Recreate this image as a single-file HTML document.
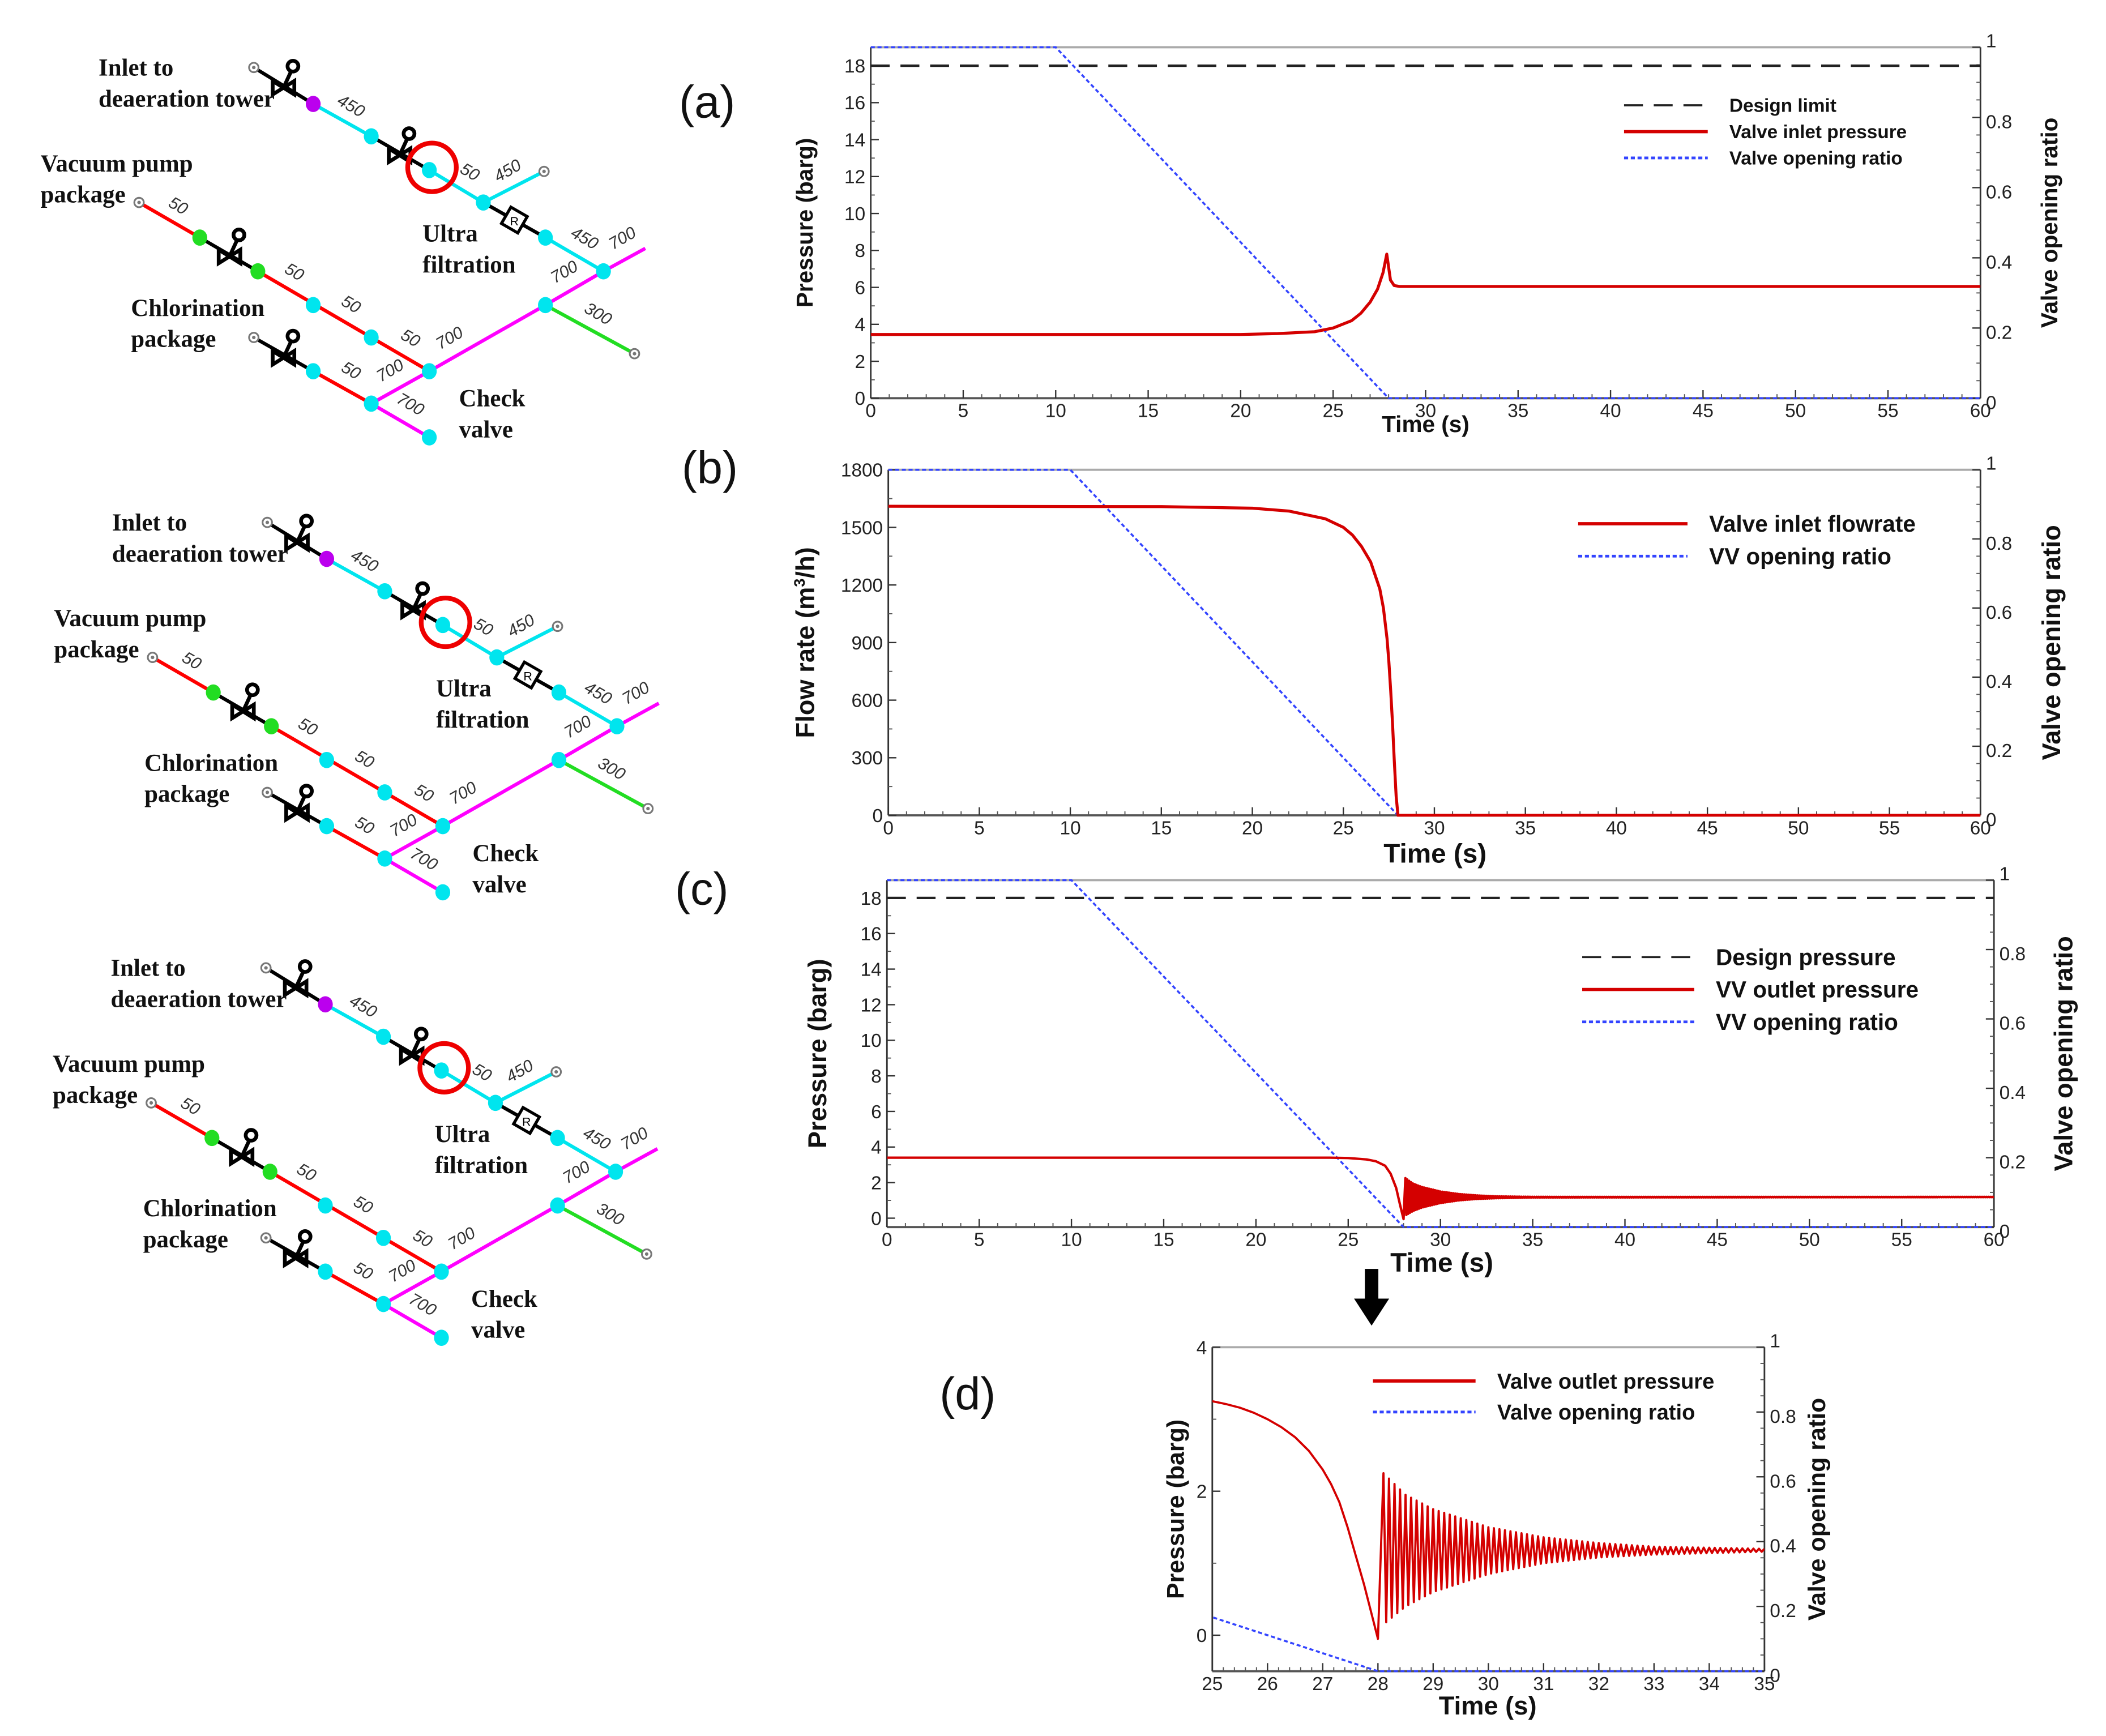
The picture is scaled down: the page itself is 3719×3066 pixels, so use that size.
<!DOCTYPE html>
<html><head><meta charset="utf-8"><style>
html,body{margin:0;padding:0;background:#fff;}
svg{display:block;}
text{font-family:"Liberation Sans",sans-serif;}
.serif{font-family:"Liberation Serif",serif;font-weight:bold;}
</style></head><body>
<svg id="fig" width="3719" height="3066" viewBox="0 0 1560 1286" preserveAspectRatio="none" xmlns="http://www.w3.org/2000/svg"></svg>
<script>
// ---------- data ----------
const openT = [0, 10, 28, 60];
const openV = [1, 1, 0, 0];
const designLimit = 18;
const aT = [0, 20, 22, 24, 25, 26, 26.5, 27, 27.4, 27.7, 27.9, 28.1, 28.3, 28.6, 60];
const aP = [3.45, 3.45, 3.5, 3.6, 3.8, 4.2, 4.6, 5.2, 5.9, 6.8, 7.8, 6.4, 6.1, 6.05, 6.05];
const bT = [0, 15, 20, 22, 24, 25, 25.5, 26, 26.5, 27, 27.2, 27.4, 27.5, 27.6, 27.7, 27.8, 27.9, 28, 60];
const bQ = [1610, 1608, 1600, 1585, 1545, 1500, 1460, 1400, 1320, 1180, 1080, 920, 800, 650, 480, 280, 100, 0, 0];
const cT = [0, 24, 25, 26, 26.5, 27, 27.3, 27.6, 27.8, 28];
const cP = [3.4, 3.4, 3.38, 3.3, 3.2, 2.95, 2.5, 1.7, 0.8, -0.05];
const dT = [25, 25.25, 25.5, 25.75, 26, 26.25, 26.5, 26.75, 27, 27.15, 27.3, 27.45, 27.6, 27.75, 27.9, 28];
const dP = [3.25, 3.21, 3.16, 3.09, 3.0, 2.89, 2.75, 2.56, 2.3, 2.1, 1.85, 1.5, 1.1, 0.7, 0.25, -0.05];
const oscT = [28.1, 28.5, 29, 30, 31, 32, 33, 35, 60];
const oscHi = [2.25, 1.95, 1.75, 1.5, 1.36, 1.28, 1.23, 1.2, 1.2];
const oscLo = [0.15, 0.4, 0.6, 0.85, 1.0, 1.08, 1.12, 1.16, 1.18];
const oscPeriod = 0.1;
const xTicks60 = [0,5,10,15,20,25,30,35,40,45,50,55,60];
const xTicksD = [25,26,27,28,29,30,31,32,33,34,35];
const pTicks = [0,2,4,6,8,10,12,14,16,18];
const qTicks = [0,300,600,900,1200,1500,1800];
const dTicks = [0,2,4];
const rTicks = [0,0.2,0.4,0.6,0.8,1];

const NS = "http://www.w3.org/2000/svg";
const svg = document.getElementById('fig');
function el(tag, attrs, parent, txt){
  const e = document.createElementNS(NS, tag);
  for (const k in attrs) e.setAttribute(k, attrs[k]);
  if (txt !== undefined) e.textContent = txt;
  (parent || svg).appendChild(e);
  return e;
}
function interp(ts, vs, t){
  if (t <= ts[0]) return vs[0];
  for (let i=1;i<ts.length;i++){ if (t<=ts[i]) { const f=(t-ts[i-1])/(ts[i]-ts[i-1]); return vs[i-1]+f*(vs[i]-vs[i-1]); } }
  return vs[vs.length-1];
}

function chart(c){
  const g = el('g', {});
  
  
  const sx = v => c.x0 + (v-c.xmin)/(c.xmax-c.xmin)*(c.x1-c.x0);
  const sy = v => c.y1 - (v-c.ymin)/(c.ymax-c.ymin)*(c.y1-c.y0);
  const sr = v => c.y1 - v*(c.y1-c.y0);
  const clip = 'clip-'+c.name;
  const cp = el('clipPath', {id:clip}, g);
  el('rect', {x:c.x0, y:c.y0-2, width:c.x1-c.x0, height:c.y1-c.y0+3}, cp);
  el('line', {x1:c.x0, y1:c.y0, x2:c.x1, y2:c.y0, stroke:'#aaa', 'stroke-width':1.6}, g);
  el('line', {x1:c.x0, y1:c.y1, x2:c.x1, y2:c.y1, stroke:'#555', 'stroke-width':1.6}, g);
  el('line', {x1:c.x0, y1:c.y0, x2:c.x0, y2:c.y1, stroke:'#333', 'stroke-width':1.2}, g);
  el('line', {x1:c.x1, y1:c.y0, x2:c.x1, y2:c.y1, stroke:'#333', 'stroke-width':1.2}, g);
  c.xticks.forEach((v,i)=>{
    const x = sx(v);
    el('line', {x1:x, y1:c.y1, x2:x, y2:c.y1-6, stroke:'#333', 'stroke-width':1}, g);
    if (i<c.xticks.length-1){
      const st=(c.xticks[i+1]-v)/5;
      for(let k=1;k<5;k++){const xx=sx(v+k*st); el('line',{x1:xx,y1:c.y1,x2:xx,y2:c.y1-3,stroke:'#555','stroke-width':0.8},g);}
    }
    const t = el('text', {x:x, y:c.y1+14, 'font-size':c.tfs, 'text-anchor':'middle', fill:'#222'}, g, String(v));
     
  });
  c.yticks.forEach((v,i)=>{
    const y = sy(v);
    el('line', {x1:c.x0, y1:y, x2:c.x0+6, y2:y, stroke:'#333', 'stroke-width':1}, g);
    if (i<c.yticks.length-1){
      const st=(c.yticks[i+1]-v)/2;
      const yy=sy(v+st); el('line',{x1:c.x0,y1:yy,x2:c.x0+3,y2:yy,stroke:'#555','stroke-width':0.8},g);
    }
    const t = el('text', {x:c.x0-4, y:y+5, 'font-size':c.tfs, 'text-anchor':'end', fill:'#222'}, g, String(v));
     
  });
  rTicks.forEach((v,i)=>{
    const y = sr(v);
    el('line', {x1:c.x1, y1:y, x2:c.x1-6, y2:y, stroke:'#333', 'stroke-width':1}, g);
    if (i<rTicks.length-1){ for(let k=1;k<4;k++){const yy=sr(v+k*0.05); el('line',{x1:c.x1,y1:yy,x2:c.x1-3,y2:yy,stroke:'#555','stroke-width':0.8},g);} }
    const t = el('text', {x:c.x1+4, y:y+(v===1?0:8), 'font-size':c.tfs, fill:'#222'}, g, String(v));
     
  });
  const pg = el('g', {'clip-path':'url(#'+clip+')'}, g);
  if (c.design){
    const d = el('line', {x1:c.x0, y1:sy(designLimit), x2:c.x1, y2:sy(designLimit), stroke:'#222', 'stroke-width':1.8, 'stroke-dasharray':'14,8'}, pg);
     
  }
  let pts=[];
  openT.forEach((t,i)=>pts.push(sx(t)+','+sr(openV[i])));
  const o = el('polyline', {points:pts.join(' '), fill:'none', stroke:'#3344ff', 'stroke-width':1.5, 'stroke-dasharray':'3,2'}, pg);
   
  pts=[];
  c.T.forEach((t,i)=>pts.push(sx(t)+','+sy(c.V[i])));
  if (c.osc){
    let t = oscT[0]; let up = true;
    while (t <= c.xmax){
      const v = up ? interp(oscT, oscHi, t) : interp(oscT, oscLo, t);
      pts.push(sx(t)+','+sy(v));
      t += oscPeriod/2; up = !up;
    }
  }
  const m = el('polyline', {points:pts.join(' '), fill:'none', stroke:'#d40000', 'stroke-width':c.lw, 'stroke-linejoin':'round'}, pg);
   
  c.legend.forEach((L,i)=>{
    const y = c.ly + i*c.lsp;
    const st = L[1]==='dash'?{stroke:'#222','stroke-dasharray':'14,8','stroke-width':1.5}:L[1]==='red'?{stroke:'#d40000','stroke-width':2.4}:{stroke:'#3344ff','stroke-dasharray':'3,2','stroke-width':2};
    el('line', Object.assign({x1:c.lx, y1:y, x2:c.lx+c.llen, y2:y}, st), g);
    const t = el('text', {x:c.lx+c.llen+16, y:y+c.lfs*0.35, 'font-size':c.lfs, 'font-weight':'bold', fill:'#111'}, g, L[0]);
     
  });
  const my=(c.y0+c.y1)/2;
  let t = el('text', {x:c.ylx, y:my, 'font-size':c.afs, 'font-weight':'bold', 'text-anchor':'middle', transform:'rotate(-90 '+c.ylx+' '+my+')', fill:'#111'}, g);
   
  if (c.flow){ t.textContent='Flow rate (m'; el('tspan',{dy:-7,'font-size':c.afs*0.6},t,'3'); el('tspan',{dy:7},t,'/h)'); }
  else t.textContent='Pressure (barg)';
  t = el('text', {x:c.rlx, y:my, 'font-size':c.afs, 'font-weight':'bold', 'text-anchor':'middle', transform:'rotate(-90 '+c.rlx+' '+my+')', fill:'#111'}, g, 'Valve opening ratio');
   
  t = el('text', {x:c.tx, y:c.ty, 'font-size':c.tfs2, 'font-weight':'bold', 'text-anchor':'middle', fill:'#111'}, g, 'Time (s)');
   
}

chart({name:'chart-a', x0:645,x1:1467,y0:35,y1:295,xmin:0,xmax:60,ymin:0,ymax:19,xticks:xTicks60,yticks:pTicks,T:aT,V:aP,design:true,lw:2.2,tfs:14,
  legend:[['Design limit','dash'],['Valve inlet pressure','red'],['Valve opening ratio','blue']],lx:1203,llen:62,ly:78,lsp:19.5,lfs:14,afs:17,ylx:602,rlx:1524,tx:1056,ty:320,tfs2:17});
chart({name:'chart-b', x0:658,x1:1467,y0:348,y1:604,xmin:0,xmax:60,ymin:0,ymax:1800,xticks:xTicks60,yticks:qTicks,T:bT,V:bQ,flow:true,lw:2.2,tfs:14,
  legend:[['Valve inlet flowrate','red'],['VV opening ratio','blue']],lx:1169,llen:81,ly:388,lsp:24,lfs:17,afs:19,ylx:603,rlx:1526,tx:1063,ty:639,tfs2:20});
chart({name:'chart-c', x0:657,x1:1477,y0:652,y1:909,xmin:0,xmax:60,ymin:-0.5,ymax:19,xticks:xTicks60,yticks:pTicks,T:cT,V:cP,osc:true,design:true,lw:1.8,tfs:14,
  legend:[['Design pressure','dash'],['VV outlet pressure','red'],['VV opening ratio','blue']],lx:1172,llen:83,ly:709,lsp:24,lfs:17,afs:19,ylx:612,rlx:1535,tx:1068,ty:942,tfs2:20});
chart({name:'chart-d', x0:898,x1:1307,y0:998,y1:1238,xmin:25,xmax:35,ymin:-0.5,ymax:4,xticks:xTicksD,yticks:dTicks,T:dT,V:dP,osc:true,lw:1.6,tfs:14,
  legend:[['Valve outlet pressure','red'],['Valve opening ratio','blue']],lx:1017,llen:76,ly:1023,lsp:23,lfs:16,afs:18,ylx:877,rlx:1352,tx:1102,ty:1270,tfs2:19});

const arr = el('g', {});  
el('rect', {x:1011, y:940, width:10, height:24, fill:'#000'}, arr);
el('polygon', {points:'1003,962 1029,962 1016,982', fill:'#000'}, arr);

[['(a)',503,87],['(b)',505,358],['(c)',500,670],['(d)',696,1044]].forEach(p=>{
  const t = el('text', {x:p[1], y:p[2], 'font-size':34, fill:'#111'}, svg, p[0]);
   
});

// ---------- diagrams ----------
const CY='#00e5ee', RD='#ff0000', MG='#ff00ff', GR='#22dd22', PU='#bb00ee';
const pipes = [
  [188,50,232,77,'#000'],[232,77,275,101,CY],[275,101,318,126,'#000'],[318,126,358,150,CY],
  [358,150,403,127,CY],[358,150,404,176,'#000'],[404,176,447,201,CY],
  [447,201,478,184,MG],[447,201,404,226,MG],[404,226,318,275,MG],[318,275,275,299,MG],[275,299,318,324,MG],
  [404,226,470,262,GR],
  [103,150,148,176,RD],[148,176,191,201,'#000'],[191,201,318,275,RD],
  [188,250,232,275,'#000'],[232,275,275,299,RD]
];
const dots = [[232,77,PU],[275,101,CY],[318,126,CY],[358,150,CY],[404,176,CY],[447,201,CY],[148,176,GR],[191,201,GR],
  [232,226,CY],[275,250,CY],[318,275,CY],[404,226,CY],[232,275,CY],[275,299,CY],[318,324,CY]];
const valves = [[210,62],[296,112],[170,187],[210,262]];
const ends = [[188,50],[403,127],[470,262],[103,150],[188,250]];
const nums = [['450',258,82,30],['50',346,131,30],['450',378,130,-30],['450',431,180,30],['700',463,180,-30],['700',420,205,-30],
  ['300',441,236,30],['50',130,156,30],['50',216,205,30],['50',258,229,30],['50',302,254,30],['700',335,254,-30],['50',258,278,30],['700',291,278,-30],['700',302,303,30]];
const labels = [['Inlet to',73,56],['deaeration tower',73,79],['Vacuum pump',30,127],['package',30,150],['Ultra',313,179],['filtration',313,202],
  ['Chlorination',97,234],['package',97,257],['Check',340,301],['valve',340,324]];

function diagram(dx, dy, name){
  const g = el('g', {transform:'translate('+dx+','+dy+')'});
   
  pipes.forEach(p=>el('line',{x1:p[0],y1:p[1],x2:p[2],y2:p[3],stroke:p[4],'stroke-width':2.6},g));
  ends.forEach(e=>{el('circle',{cx:e[0],cy:e[1],r:3.5,fill:'#fff',stroke:'#777','stroke-width':1.3},g);el('circle',{cx:e[0],cy:e[1],r:1.3,fill:'#777'},g);});
  valves.forEach(v=>{
    el('polygon',{points:(v[0]-8)+','+(v[1]-2)+' '+(v[0]+8)+','+(v[1]+8)+' '+(v[0]+8)+','+(v[1]-2)+' '+(v[0]-8)+','+(v[1]+8),fill:'none',stroke:'#000','stroke-width':2.8},g);
    el('line',{x1:v[0],y1:v[1]+3,x2:v[0]+6,y2:v[1]-10,stroke:'#000','stroke-width':2.8},g);
    el('circle',{cx:v[0]+7,cy:v[1]-13,r:4,fill:'none',stroke:'#000','stroke-width':2.8},g);
  });
  el('rect',{x:374,y:156,width:14,height:14,fill:'#fff',stroke:'#000','stroke-width':2.2,transform:'rotate(30 381 163)'},g);
  el('text',{x:381,y:167,'font-size':9,'text-anchor':'middle',fill:'#000'},g,'R');
  dots.forEach(d=>el('ellipse',{cx:d[0],cy:d[1],rx:5.5,ry:6,fill:d[2]},g));
  el('circle',{cx:320,cy:124,r:18,fill:'none',stroke:'#ee0000','stroke-width':3.5},g);
  nums.forEach(n=>el('text',{x:n[1],y:n[2],'font-size':12.5,fill:'#333','font-style':'italic','text-anchor':'middle',transform:'rotate('+n[3]+' '+n[1]+' '+n[2]+')'},g,n[0]));
  labels.forEach(l=>{const t=el('text',{x:l[1],y:l[2],'font-size':18,fill:'#111',class:'serif'},g,l[0]);
     });
}
diagram(0,0,'pipe-diagram-a');
diagram(10,337,'pipe-diagram-b');
diagram(9,667,'pipe-diagram-c');
</script>
</body></html>
